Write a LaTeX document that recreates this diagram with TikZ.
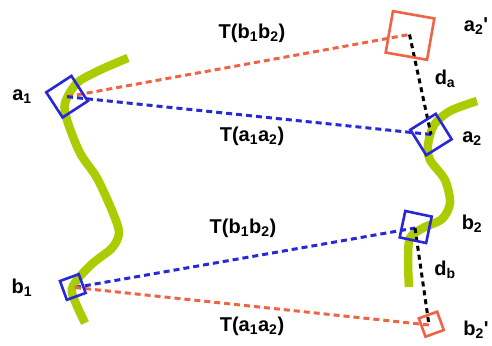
\documentclass[tikz,border=0pt]{standalone}
\usepackage{fontspec}
\setmainfont{Liberation Sans}
\definecolor{curvegreen}{RGB}{170,204,0}
\definecolor{boxred}{RGB}{238,100,68}
\definecolor{boxblue}{RGB}{40,40,215}
\begin{document}
\begin{tikzpicture}[x=1pt, y=-1pt,
    box/.style={draw, rectangle, line width=2.6pt, inner sep=0pt},
    lbl/.style={font=\fontsize{20}{23}\selectfont\bfseries, inner sep=1pt},
    tline/.style={line width=3pt, dash pattern=on 6pt off 4pt},
    dline/.style={line width=3pt, dash pattern=on 5pt off 4pt, black}]
    \useasboundingbox (0,0) rectangle (492,345);

    \draw[curvegreen, line width=8.5pt] plot[smooth] coordinates {(128,58) (100,70) (77,83) (65,103) (67,120) (80,153) (97,178) (113,213) (119,233) (112,248) (93,263) (77,280) (72,293) (85,323)};
    \draw[curvegreen, line width=8.5pt] plot[smooth] coordinates {(477,101) (450,111) (434,125) (428,145) (430,160) (445,180) (450,203) (442,219) (423,228) (410,238) (408,260) (409,287)};

    \coordinate (a1) at (67,96.7);
    \coordinate (a2) at (431,134.5);
    \coordinate (a2p) at (409.5,34.5);
    \coordinate (b1) at (75,287.5);
    \coordinate (b2) at (415,228);
    \coordinate (b2p) at (429,325);

    \draw[tline, boxred] (a1) -- (a2p);
    \draw[tline, boxblue] (a1) -- (a2);
    \draw[tline, boxblue] (b1) -- (b2);
    \draw[tline, boxred] (b1) -- (b2p);
    \draw[dline] (a2p) -- (a2);
    \draw[dline] (b2) -- (b2p);

    \node[box, boxblue, minimum size=30pt, rotate=33] (boxa1) at (a1) {};
    \node[box, boxblue, minimum size=30pt, rotate=32] (boxa2) at (a2) {};
    \node[box, boxred, minimum size=42pt, rotate=-10] (boxa2p) at (410,35.5) {};
    \node[box, boxblue, minimum size=20pt, rotate=20] (boxb1) at (72.8,287) {};
    \node[box, boxblue, minimum size=27pt, rotate=-12] (boxb2) at (415.7,227) {};
    \node[box, boxred, minimum size=19.5pt, rotate=20] (boxb2p) at (431.3,324.2) {};

    \node[lbl] (la1) at (22,97) {a\textsubscript{1}};
    \node[lbl] (lb1) at (22,288) {b\textsubscript{1}};
    \node[lbl] (la2p) at (476,26) {a\textsubscript{2}\textquotesingle};
    \node[lbl] (la2) at (472,139) {a\textsubscript{2}};
    \node[lbl] (lb2) at (472,224) {b\textsubscript{2}};
    \node[lbl] (lb2p) at (476,330) {b\textsubscript{2}\textquotesingle};
    \node[lbl] (lda) at (445,79) {d\textsubscript{a}};
    \node[lbl] (ldb) at (445,270) {d\textsubscript{b}};

    \node[lbl] (t1) at (252,33) {T(b\textsubscript{1}b\textsubscript{2})};
    \node[lbl] (t2) at (252,136) {T(a\textsubscript{1}a\textsubscript{2})};
    \node[lbl] (t3) at (243,228) {T(b\textsubscript{1}b\textsubscript{2})};
    \node[lbl] (t4) at (252,326) {T(a\textsubscript{1}a\textsubscript{2})};
\end{tikzpicture}
\end{document}
